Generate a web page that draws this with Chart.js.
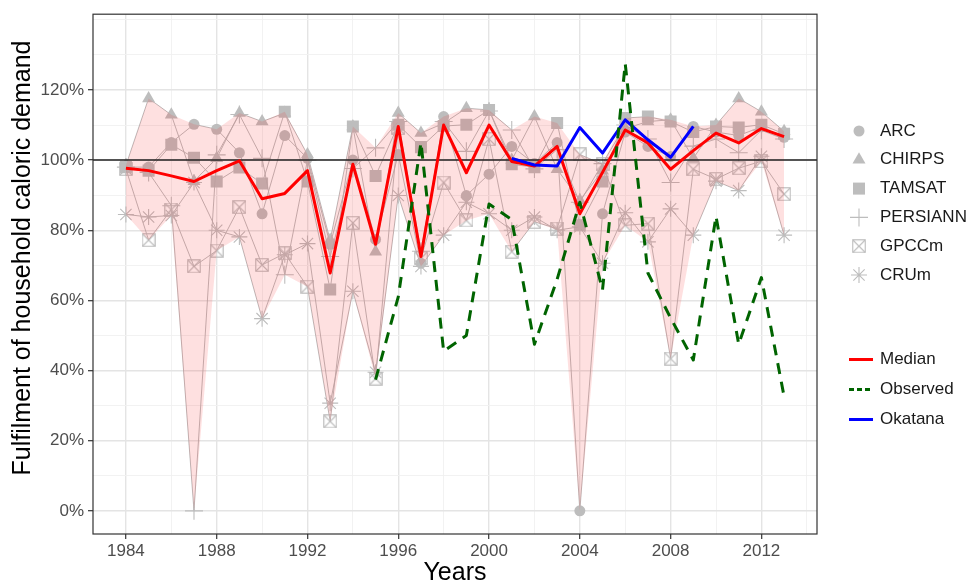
<!DOCTYPE html>
<html>
<head>
<meta charset="utf-8">
<title>Household caloric demand</title>
<script src="https://cdn.jsdelivr.net/npm/chart.js@4.4.1/dist/chart.umd.min.js"></script>
<style>
  html, body { margin: 0; padding: 0; background: #fff; }
  #wrap { width: 976px; height: 586px; }
</style>
</head>
<body>
<div id="wrap"><canvas id="chart" width="976" height="586"></canvas></div>
<script>
// Years on the x axis
const years = [1984, 1985, 1986, 1987, 1988, 1989, 1990, 1991, 1992, 1993,
  1994, 1995, 1996, 1997, 1998, 1999, 2000, 2001, 2002, 2003,
  2004, 2005, 2006, 2007, 2008, 2009, 2010, 2011, 2012, 2013];

// Simulated fulfilment (%) per rainfall product
const arc = [98, 98, 105, 110.2, 108.8, 102.1, 84.7, 107, 100.5, 76,
  100, 77.4, 101.6, 70.6, 112.4, 89.9, 96, 103.9, 99, 105,
  0, 84.7, 108, 103.9, 101, 109.6, 108, 107, 109.5, 106.5];
const chirps = [98.5, 117.6, 112.9, 94, 100.5, 113.4, 111, 113.4, 101.6, 77.2,
  109.6, 73.9, 113.4, 107.7, 110.5, 114.8, 114.3, 100, 112.4, 97.4,
  88.5, 97, 109, 111, 111.5, 100.5, 110, 117.6, 113.8, 108.2];
const tamsat = [98, 97, 104.4, 100.7, 93.9, 97.9, 93.3, 113.8, 93.9, 63.1,
  109.6, 95.5, 110.1, 103.7, 109.7, 110.1, 114.3, 98.8, 98, 110.6,
  81.4, 93.9, 112, 112.4, 111, 108, 109.6, 109.3, 110.1, 107.5];
const persiann = [98, 96.5, 87, 0, 101.5, 113, 100.5, 67.3, 100, 72.5,
  97.6, 103.5, 111, 74, 111, 102.5, 114, 108.6, 97.5, 103,
  88, 99, 110, 106, 93.6, 104, 106, 102.1, 108.5, 106];
const gpcc = [97.5, 77.2, 85.9, 69.7, 74.2, 86.6, 70.1, 73.4, 63.9, 25.5,
  82.1, 37.7, 109.1, 72, 93.6, 82.8, 106, 73.9, 82.4, 80.5,
  101.6, 98.8, 81.4, 81.9, 43.4, 97.4, 94.6, 97.7, 99.7, 90.3];
const cru = [84.5, 83.8, 84.2, 93.6, 80, 78.1, 54.8, 73, 76.2, 30.7,
  62.6, 39.5, 89.9, 69.7, 78.6, 88, 84.7, 80, 83.8, 80,
  81, 70.6, 85, 76.7, 86.1, 78.6, 94, 91.3, 101.1, 78.6];

// Median of the products, survey observations and the Okatana record
const median = [97.7, 97, 95.5, 93.9, 97, 99.8, 89, 90.5, 97, 67.8,
  98.8, 76, 109.6, 72.5, 110, 96.4, 110, 99.6, 98.3, 103.9,
  84.7, 96.5, 108.6, 104.9, 97.4, 102.7, 107.7, 104.9, 109, 106.7];
const observed = [null, null, null, null, null, null, null, null, null, null,
  null, 37.4, 61, 105, 45.5, 50, 87.5, 83, 47.5, 66,
  88, 63, 127.5, 67.8, 55, 43, 84, 47.5, 66.5, 32.6];
const okatana = [null, null, null, null, null, null, null, null, null, null,
  null, null, null, null, null, null, null, 100.5, 98.6, 98.3,
  109.3, 102, 111.5, 105.8, 100.8, 109.6, null, null, null, null];

// Axis breaks
const xMajor = [1984, 1988, 1992, 1996, 2000, 2004, 2008, 2012];
const xMinor = [1986, 1990, 1994, 1998, 2002, 2006, 2010, 2014];
const yMajor = [0, 20, 40, 60, 80, 100, 120];
const yMinor = [10, 30, 50, 70, 90, 110, 130, 140];
const refLevel = 100;

const X_MIN = 1982.55, X_MAX = 2014.45;
const Y_MIN = -6.6, Y_MAX = 141.6;

const FONT = '"Liberation Sans", Arial, Helvetica, sans-serif';
const POINT_GREY = '#bdbdbd';
const Y_TITLE = 'Fulfilment of household caloric demand';

function toXY(values) {
  return years.map((yr, i) => ({ x: yr, y: values[i] }));
}

// square with a diagonal cross, like R's pch 7
function boxedCross(size, color) {
  const c = document.createElement('canvas');
  c.width = size;
  c.height = size;
  const g = c.getContext('2d');
  g.strokeStyle = color;
  g.lineWidth = 1.1;
  g.strokeRect(0.75, 0.75, size - 1.5, size - 1.5);
  g.beginPath();
  g.moveTo(1, 1); g.lineTo(size - 1, size - 1);
  g.moveTo(size - 1, 1); g.lineTo(1, size - 1);
  g.stroke();
  return c;
}

const products = [
  { label: 'ARC', values: arc, pointStyle: 'circle', radius: 5.5, filled: true },
  { label: 'CHIRPS', values: chirps, pointStyle: 'triangle', radius: 7.5, filled: true },
  { label: 'TAMSAT', values: tamsat, pointStyle: 'rect', radius: 8.5, filled: true },
  { label: 'PERSIANN', values: persiann, pointStyle: 'cross', radius: 9, filled: false },
  { label: 'GPCCm', values: gpcc, pointStyle: boxedCross(14, POINT_GREY), radius: 7, filled: false },
  { label: 'CRUm', values: cru, pointStyle: 'star', radius: 8, filled: false },
];

// envelope of all products
const ribbonLo = years.map((_, i) => Math.min(...products.map(p => p.values[i])));
const ribbonHi = years.map((_, i) => Math.max(...products.map(p => p.values[i])));

const summaryLines = [
  { label: 'Median', values: median, color: '#ff0000', dash: [], order: 2 },
  { label: 'Observed', values: observed, color: '#006400', dash: [11, 8], order: 0 },
  { label: 'Okatana', values: okatana, color: '#0000ff', dash: [], order: 1 },
];

const datasets = [];

products.forEach((p, i) => {
  datasets.push({
    label: p.label,
    data: toXY(p.values),
    borderColor: '#b3b3b3',
    borderWidth: 0.9,
    pointStyle: p.pointStyle,
    pointRadius: p.radius,
    pointBackgroundColor: p.filled ? POINT_GREY : 'rgba(0,0,0,0)',
    pointBorderColor: POINT_GREY,
    pointBorderWidth: p.filled ? 0 : 1.1,
    fill: false,
    tension: 0,
    order: 11 - i,
  });
});

// min-max band, drawn over the product markers
datasets.push({
  label: 'bandLo',
  data: toXY(ribbonLo),
  borderWidth: 0,
  pointRadius: 0,
  fill: false,
  order: 5,
});
datasets.push({
  label: 'bandHi',
  data: toXY(ribbonHi),
  borderWidth: 0,
  pointRadius: 0,
  backgroundColor: 'rgba(250, 50, 50, 0.15)',
  fill: '-1',
  order: 4,
});

// 100 % reference line
datasets.push({
  label: 'ref',
  data: [{ x: X_MIN, y: refLevel }, { x: X_MAX, y: refLevel }],
  borderColor: '#222',
  borderWidth: 1.5,
  pointRadius: 0,
  fill: false,
  order: 3,
});

summaryLines.forEach(s => {
  datasets.push({
    label: s.label,
    data: toXY(s.values),
    borderColor: s.color,
    borderWidth: 3,
    borderDash: s.dash,
    borderCapStyle: 'butt',
    borderJoinStyle: 'round',
    pointRadius: 0,
    fill: false,
    spanGaps: false,
    tension: 0,
    order: s.order,
  });
});

const panelBorder = {
  id: 'panelBorder',
  afterDatasetsDraw(chart) {
    const { ctx, chartArea: a } = chart;
    ctx.save();
    ctx.strokeStyle = '#333';
    ctx.lineWidth = 1.2;
    ctx.strokeRect(a.left, a.top, a.right - a.left, a.bottom - a.top);
    ctx.restore();
  },
};

// rotated y-axis title, drawn by hand so it can sit a little higher
const yTitle = {
  id: 'yTitle',
  afterDraw(chart) {
    const { ctx } = chart;
    ctx.save();
    ctx.translate(23, 258);
    ctx.rotate(-Math.PI / 2);
    ctx.font = '25px ' + FONT;
    ctx.fillStyle = '#000';
    ctx.textAlign = 'center';
    ctx.textBaseline = 'middle';
    ctx.fillText(Y_TITLE, 0, 0);
    ctx.restore();
  },
};

const sideLegend = {
  id: 'sideLegend',
  afterDraw(chart) {
    const { ctx } = chart;
    const helpers = Chart.helpers;
    ctx.save();
    ctx.font = '17px ' + FONT;
    ctx.textBaseline = 'middle';
    ctx.textAlign = 'left';

    products.forEach((p, i) => {
      const y = 131 + i * 28.8;
      ctx.fillStyle = POINT_GREY;
      ctx.strokeStyle = POINT_GREY;
      ctx.lineWidth = 1.1;
      if (helpers && helpers.drawPoint) {
        helpers.drawPoint(ctx, {
          pointStyle: p.pointStyle,
          radius: p.radius,
          rotation: 0,
          borderWidth: p.filled ? 0 : 1.1,
        }, 859, y);
      }
      ctx.fillStyle = '#1a1a1a';
      ctx.fillText(p.label, 880, y);
    });

    summaryLines.forEach((s, i) => {
      const y = 359.5 + i * 30;
      ctx.beginPath();
      ctx.strokeStyle = s.color;
      ctx.lineWidth = 3;
      ctx.setLineDash(s.dash.length ? [5, 3] : []);
      ctx.moveTo(849, y);
      ctx.lineTo(873, y);
      ctx.stroke();
      ctx.setLineDash([]);
      ctx.fillStyle = '#1a1a1a';
      ctx.fillText(s.label, 880, y);
    });
    ctx.restore();
  },
};

function gridStyle(majors) {
  return {
    color: (c) => (c.tick && majors.includes(c.tick.value) ? '#e4e4e4' : '#f0f0f0'),
    lineWidth: (c) => (c.tick && majors.includes(c.tick.value) ? 1.4 : 0.9),
    tickColor: (c) => (c.tick && majors.includes(c.tick.value) ? '#333' : 'rgba(0,0,0,0)'),
    tickLength: 5,
    tickWidth: 1.2,
    drawTicks: true,
  };
}

const ctx = document.getElementById('chart').getContext('2d');
new Chart(ctx, {
  type: 'line',
  data: { datasets },
  options: {
    responsive: false,
    animation: false,
    events: [],
    layout: { padding: { top: 8, right: 159, bottom: 0, left: 0 } },
    plugins: {
      legend: { display: false },
      tooltip: { enabled: false },
      filler: { propagate: false },
    },
    scales: {
      x: {
        type: 'linear',
        min: X_MIN,
        max: X_MAX,
        offset: false,
        afterBuildTicks: (scale) => {
          scale.ticks = [...xMajor, ...xMinor].sort((a, b) => a - b).map(v => ({ value: v }));
        },
        afterFit: (scale) => { scale.height = 52; },
        border: { display: false },
        grid: gridStyle(xMajor),
        ticks: {
          autoSkip: false,
          maxRotation: 0,
          padding: 2,
          color: '#4d4d4d',
          font: { family: FONT, size: 17 },
          callback: (v) => (xMajor.includes(v) ? String(v) : ''),
        },
        title: {
          display: true,
          text: 'Years',
          color: '#000',
          font: { family: FONT, size: 25, lineHeight: 1 },
          padding: { top: 0, bottom: 0 },
        },
      },
      y: {
        type: 'linear',
        min: Y_MIN,
        max: Y_MAX,
        afterBuildTicks: (scale) => {
          scale.ticks = [...yMajor, ...yMinor].sort((a, b) => a - b).map(v => ({ value: v }));
        },
        afterFit: (scale) => { scale.width = 93; },
        border: { display: false },
        grid: gridStyle(yMajor),
        ticks: {
          autoSkip: false,
          padding: 4,
          color: '#4d4d4d',
          font: { family: FONT, size: 17 },
          callback: (v) => (yMajor.includes(v) ? v + '%' : ''),
        },
        title: { display: false },
      },
    },
  },
  plugins: [panelBorder, yTitle, sideLegend],
});
</script>
</body>
</html>
